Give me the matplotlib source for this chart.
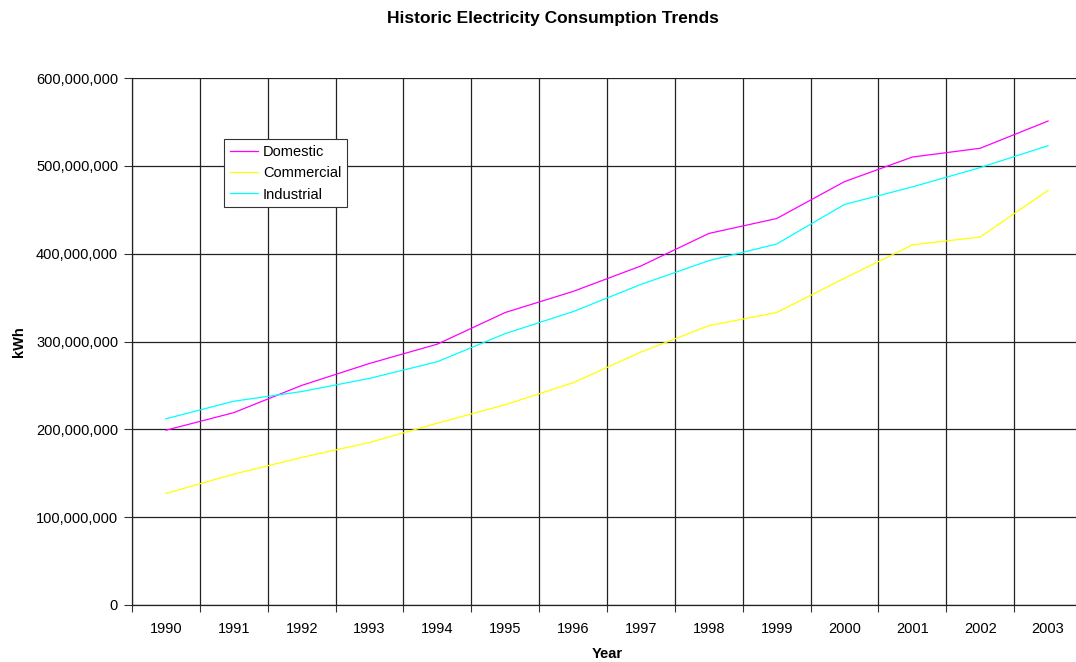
import matplotlib
matplotlib.use('Agg')
import matplotlib.pyplot as plt
from matplotlib.ticker import FuncFormatter, MultipleLocator
import numpy as np

plt.rcParams['font.family'] = ['Liberation Sans', 'DejaVu Sans']

years = ['1990', '1991', '1992', '1993', '1994', '1995', '1996',
         '1997', '1998', '1999', '2000', '2001', '2002', '2003']
domestic = [199e6, 219e6, 250e6, 275e6, 297e6, 333e6, 357e6,
            386e6, 423e6, 440e6, 482e6, 510e6, 520e6, 551e6]
commercial = [127e6, 149e6, 168e6, 185e6, 207e6, 228e6, 253e6,
              288e6, 318e6, 333e6, 372e6, 410e6, 419e6, 472e6]
industrial = [212e6, 232e6, 243e6, 258e6, 277e6, 309e6, 334e6,
              365e6, 392e6, 411e6, 456e6, 476e6, 498e6, 523e6]

W, H = 1076, 662
fig = plt.figure(figsize=(W / 100, H / 100), dpi=100)
ax = fig.add_axes([132 / W, (H - 605) / H, 950 / W, 527 / H])

x = np.arange(len(years))
ax.plot(x, domestic, color='#ff00ff', lw=0.9, label='Domestic')
ax.plot(x, commercial, color='#ffff00', lw=0.9, label='Commercial')
ax.plot(x, industrial, color='#00ffff', lw=0.9, label='Industrial')

ax.set_xlim(-0.5, len(years) - 0.5)
ax.set_ylim(0, 600e6)
ax.yaxis.set_major_locator(MultipleLocator(100e6))
ax.yaxis.set_major_formatter(FuncFormatter(lambda v, p: f'{int(v):,}'))
ax.set_xticks(x)
ax.set_xticklabels(years)
ax.set_xticks(np.arange(len(years) + 1) - 0.5, minor=True)
ax.tick_params(axis='x', which='major', length=0, pad=12, labelsize=10.5)
ax.tick_params(axis='x', which='minor', length=5, width=0.8, color='#333333')
ax.tick_params(axis='y', length=6, width=0.8, labelsize=10.5, pad=4, color='#333333')

ax.grid(True, which='minor', axis='x', color='#222222', lw=0.9)
ax.grid(True, which='major', axis='y', color='#222222', lw=0.9)
ax.set_axisbelow(True)
for s in ['top', 'right']:
    ax.spines[s].set_visible(False)
for s in ['left', 'bottom']:
    ax.spines[s].set_color('#222222')
    ax.spines[s].set_linewidth(0.9)

ax.set_xlabel('Year', fontsize=10.5, fontweight='bold', labelpad=8)
ax.set_ylabel('kWh', fontsize=10.5, fontweight='bold', labelpad=7)
fig.suptitle('Historic Electricity Consumption Trends', fontsize=12.5,
             fontweight='bold', x=553 / W, y=1 - 18 / H, va='center')

leg = ax.legend(loc='upper left', bbox_to_anchor=(0.097, 0.884),
                borderaxespad=0, fancybox=False, edgecolor='#333333',
                framealpha=1, fontsize=10.5, handlelength=1.9,
                handletextpad=0.35, labelspacing=0.5, borderpad=0.4)
leg.get_frame().set_linewidth(0.8)

fig.savefig('out.png', dpi=100)
